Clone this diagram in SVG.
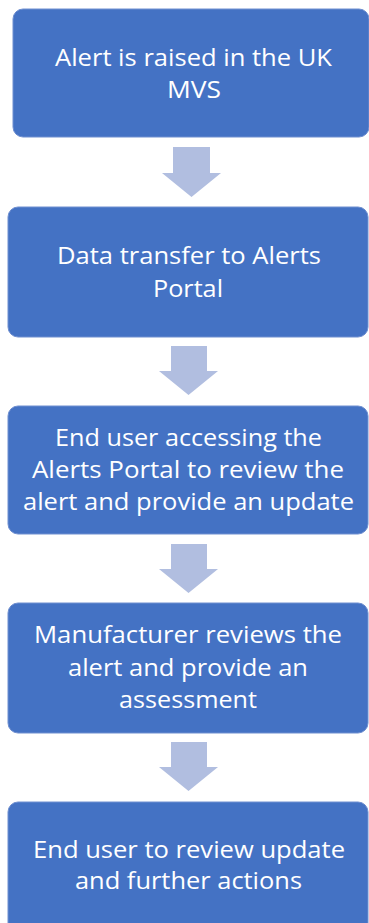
<svg xmlns="http://www.w3.org/2000/svg" width="369" height="923" viewBox="0 0 369 923">
<style>
.box{fill:#4472C4;stroke:#6F8FD0;stroke-width:1}
.arr{fill:#B1BEE0}
.t{font-family:"Open Sans","Noto Sans","Liberation Sans",sans-serif;font-size:24px;fill:#FFFFFF;text-anchor:middle}
</style>
<rect width="369" height="923" fill="#FFFFFF"/>
<g id="connectors">
<polygon class="arr" points="173,147 210,147 210,173 221,173 191.5,197 162,173 173,173"/>
<polygon class="arr" points="171,346 207,346 207,371 218,371 188.5,395 159,371 171,371"/>
<polygon class="arr" points="171,544 207,544 207,569 218,569 188.5,593 159,569 171,569"/>
<polygon class="arr" points="171,742 207,742 207,767 218,767 188.5,791 159,767 171,767"/>
</g>
<g id="node1">
<rect class="box" x="13" y="9" width="356" height="128" rx="10"/>
<text class="t" x="193.5" y="66" textLength="277" lengthAdjust="spacingAndGlyphs">Alert is raised in the UK</text>
<text class="t" x="194" y="98" textLength="54" lengthAdjust="spacingAndGlyphs">MVS</text>
</g>
<g id="node2">
<rect class="box" x="8" y="207" width="360" height="130" rx="10"/>
<text class="t" x="189" y="264" textLength="264" lengthAdjust="spacingAndGlyphs">Data transfer to Alerts</text>
<text class="t" x="188" y="297" textLength="70" lengthAdjust="spacingAndGlyphs">Portal</text>
</g>
<g id="node3">
<rect class="box" x="8" y="406" width="360" height="128" rx="10"/>
<text class="t" x="188.5" y="446" textLength="267" lengthAdjust="spacingAndGlyphs">End user accessing the</text>
<text class="t" x="188" y="478" textLength="312" lengthAdjust="spacingAndGlyphs">Alerts Portal to review the</text>
<text class="t" x="188.5" y="510" textLength="331" lengthAdjust="spacingAndGlyphs">alert and provide an update</text>
</g>
<g id="node4">
<rect class="box" x="8" y="603" width="360" height="130" rx="10"/>
<text class="t" x="188" y="643" textLength="308" lengthAdjust="spacingAndGlyphs">Manufacturer reviews the</text>
<text class="t" x="188" y="676" textLength="240" lengthAdjust="spacingAndGlyphs">alert and provide an</text>
<text class="t" x="188" y="708" textLength="138" lengthAdjust="spacingAndGlyphs">assessment</text>
</g>
<g id="node5">
<rect class="box" x="8" y="802" width="360" height="140" rx="10"/>
<text class="t" x="189" y="858" textLength="312" lengthAdjust="spacingAndGlyphs">End user to review update</text>
<text class="t" x="188.5" y="889" textLength="227" lengthAdjust="spacingAndGlyphs">and further actions</text>
</g>
</svg>
